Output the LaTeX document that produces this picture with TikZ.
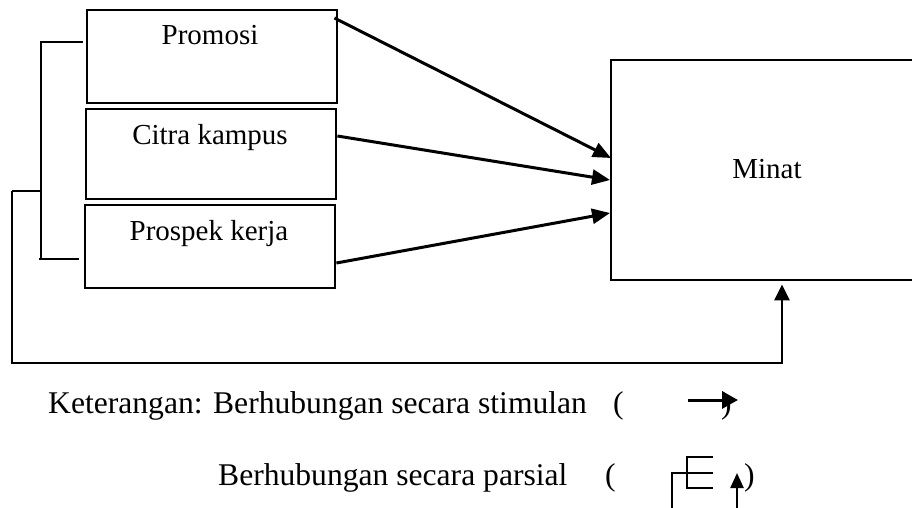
\documentclass[tikz,border=0pt]{standalone}
\usepackage{fontspec}
\setmainfont{Liberation Serif}
\usetikzlibrary{arrows.meta,calc}

\tikzset{
  varbox/.style={draw, line width=2.4pt, anchor=north west, inner sep=0pt},
  boxlabel/.style={font=\fontsize{29}{34}\selectfont, anchor=base, inner sep=0pt},
  legendtext/.style={font=\fontsize{31.6}{38}\selectfont, anchor=base west, inner sep=0pt},
  link/.style={line width=3pt, -{Triangle[length=18pt,width=15pt]}},
  bracket/.style={line width=2.4pt},
  keyline/.style={line width=2.4pt},
}

\begin{document}
\begin{tikzpicture}[x=1pt,y=-1pt]
  \useasboundingbox (0,0) rectangle (912,508);

  % independent variables
  \node[varbox, minimum width=250pt, minimum height=93pt] (promosi) at (86,9) {};
  \node[varbox, minimum width=250pt, minimum height=90pt] (citra) at (85,108) {};
  \node[varbox, minimum width=250pt, minimum height=83pt] (prospek) at (84,204) {};
  \node[boxlabel] (promosiT) at (210,45) {Promosi};
  \node[boxlabel] (citraT) at (210,144) {Citra kampus};
  \node[boxlabel] (prospekT) at (209,240) {Prospek kerja};

  % dependent variable
  \node[varbox, minimum width=306pt, minimum height=220pt] (minat) at (610,59) {};
  \node[boxlabel] (minatT) at (767,178) {Minat};

  % simultaneous links
  \draw[link] ($(promosi.north east)+(-4,9)$) -- ($(minat.north west)+(1,99)$);
  \draw[link] ($(citra.north east)+(0,28)$) -- ($(minat.north west)+(0,121)$);
  \draw[link] ($(prospek.north east)+(0,59)$) -- ($(minat.north west)+(0,154)$);

  % partial bracket and feedback line
  \coordinate (bTop) at (83,42);
  \coordinate (bTopC) at (41,42);
  \coordinate (bBotC) at (41,259);
  \coordinate (bBotS) at (39,259);
  \coordinate (bBot) at (79,259);
  \coordinate (bMid) at (41,191);
  \coordinate (fbStart) at (12,191);
  \coordinate (fbLow) at (12,363);
  \coordinate (fbEnd) at ($(minat.south west)+(172,3)$);
  \draw[bracket] (bTop) -- (bTopC) -- (bBotC);
  \draw[bracket] (bBotS) -- (bBot);
  \draw[bracket] (bMid) -- (fbStart);
  \draw[bracket, line width=2.8pt, -{Triangle[length=16pt,width=15pt]}] (fbStart) -- (fbLow) -| (fbEnd);

  % legend
  \node[legendtext] (ket1) at (48,413) {Keterangan: Berhubungan secara stimulan};
  \node[legendtext] (ket1o) at (613,413) {(};
  \node[legendtext] (ket1c) at (721,413) {)};
  \coordinate (s1) at (688,400);
  \coordinate (s2) at (738,400);
  \draw[line width=3pt, -{Triangle[length=16pt,width=17pt]}] (s1) -- (s2);

  \node[legendtext] (ket2) at (218,485) {Berhubungan secara parsial};
  \node[legendtext] (ket2o) at (605,485) {(};
  \node[legendtext] (ket2c) at (744,485) {)};
  \coordinate (p1) at (672,512);
  \coordinate (p2) at (672,473);
  \coordinate (p3) at (713,473);
  \coordinate (e1) at (713,457);
  \coordinate (e2) at (687,457);
  \coordinate (e3) at (687,488);
  \coordinate (e4) at (713,488);
  \coordinate (u1) at (737,512);
  \coordinate (u2) at (737,473);
  \draw[keyline] (p1) -- (p2) -- (p3);
  \draw[keyline] (e1) -- (e2) -- (e3) -- (e4);
  \draw[keyline, -{Triangle[length=15pt,width=13pt]}] (u1) -- (u2);
\end{tikzpicture}
\end{document}
